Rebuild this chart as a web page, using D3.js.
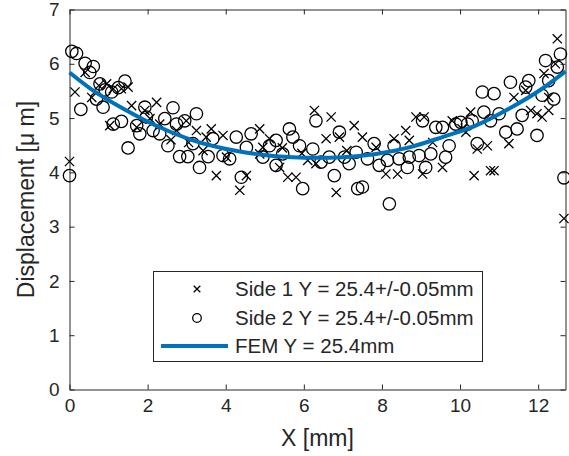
<!DOCTYPE html>
<html>
<head>
<meta charset="utf-8">
<script src="https://cdn.jsdelivr.net/npm/d3@7"></script>
<style>
  body { margin: 0; background: #fff; }
  text { font-family: "Liberation Sans", Arial, sans-serif; fill: #262626; }
</style>
</head>
<body>
<div id="chart"></div>
<script>
// side 1 (crosses): [x mm, displacement um]
let side1X = [0, 0.14, 0.40, 0.57, 0.95, 1.12, 1.50, 1.33, 1.59, 1.03, 1.93, 2.23, 2.06, 1.72, 2.31, 2.74,
  2.99, 3.25, 3.63, 3.50, 3.93, 3.42, 3.76, 4.02, 4.36, 4.53, 4.87, 4.87, 5.12, 5.38, 5.59, 5.80, 6.10,
  6.27, 6.31, 4.95, 6.70, 6.57, 6.91, 6.83, 7.29, 7.50, 7.85, 8.10, 8.40, 8.31, 8.61, 8.70, 8.87, 9.08,
  9.04, 9.55, 9.80, 10.15, 10.27, 10.36, 10.44, 10.70, 10.78, 10.87, 11.25, 11.38, 11.68, 11.81, 11.97,
  12.10, 12.27, 12.15, 12.44, 12.49, 12.66, 12.27, 0.75, 2.60, 3.05, 5.45, 5.95, 7.10, 9.30, 10.05];
let side1Y = [4.20, 5.48, 5.84, 5.38, 5.63, 5.54, 5.57, 5.54, 5.23, 4.86, 5.14, 5.29, 4.99, 4.83, 4.89, 4.77,
  4.95, 4.77, 4.80, 4.65, 4.68, 4.40, 3.94, 4.28, 3.67, 3.94, 4.80, 4.34, 4.62, 4.09, 3.91, 3.91, 4.22,
  5.14, 4.16, 4.46, 5.02, 4.62, 4.65, 3.63, 4.86, 4.65, 4.46, 3.97, 3.97, 4.62, 4.77, 4.59, 5.02, 5.02,
  3.97, 4.09, 4.95, 4.74, 5.11, 3.94, 4.43, 4.49, 4.03, 4.03, 4.53, 5.38, 5.51, 5.14, 5.08,
  5.02, 5.14, 5.82, 6.00, 6.46, 3.15, 5.38, 5.60, 4.60, 4.55, 4.45, 4.35, 4.40, 4.55, 4.80];

// side 2 (circles)
let side2X = [0, 0.06, 0.18, 0.40, 0.61, 0.52, 0.29, 0.78, 0.91, 0.69, 0.86, 1.42, 1.25, 1.08, 1.12, 1.33,
  1.50, 1.72, 1.80, 1.93, 1.97, 2.14, 2.31, 2.44, 2.65, 2.74, 2.95, 3.25, 2.52, 2.82, 3.03, 3.16, 3.33,
  3.55, 3.67, 3.93, 4.10, 4.27, 4.40, 4.65, 4.53, 4.95, 5.12, 5.29, 5.29, 5.46, 5.63, 5.72, 5.89, 5.97,
  6.23, 6.31, 6.44, 6.65, 6.78, 6.91, 7.04, 7.16, 7.38, 7.50, 7.34, 7.63, 7.80, 7.93, 8.19, 8.14, 8.31,
  8.44, 8.65, 8.70, 8.95, 9.04, 9.12, 9.25, 9.38, 9.55, 9.63, 9.72, 9.89, 10.02, 10.19, 10.31, 10.44,
  10.57, 10.87, 10.61, 10.78, 11.00, 11.17, 11.29, 11.46, 11.68, 11.76, 11.59, 11.97, 12.10, 12.19,
  12.40, 12.49, 12.57, 12.66, 12.27];
let side2Y = [3.94, 6.23, 6.19, 6.01, 5.95, 5.84, 5.16, 5.63, 5.52, 5.35, 5.20, 5.68, 5.56, 5.48, 4.89, 4.94,
  4.45, 4.86, 4.71, 5.20, 5.02, 4.77, 4.71, 4.99, 5.19, 4.89, 4.95, 5.08, 4.49, 4.29, 4.29, 4.53, 4.09,
  4.29, 4.62, 4.31, 4.25, 4.65, 3.91, 4.71, 4.46, 4.28, 4.49, 4.59, 4.13, 4.34, 4.80, 4.65, 4.49, 3.70,
  4.43, 4.95, 4.19, 4.28, 3.94, 4.74, 4.28, 4.16, 3.70, 3.73, 4.37, 4.25, 4.53, 4.13, 3.42, 4.22, 4.49,
  4.25, 4.09, 4.28, 4.31, 4.95, 4.09, 4.34, 4.83, 4.83, 4.28, 4.49, 4.89, 4.92, 4.89, 4.95, 4.53,
  5.48, 5.45, 5.11, 4.95, 5.08, 4.74, 5.66, 4.80, 5.57, 5.69, 5.05, 4.68, 5.42, 6.06,
  5.35, 5.94, 6.18, 3.90, 5.69];

// FEM curve
let femX = [0, 0.6, 1.46, 2.31, 3.16, 4.02, 4.87, 5.72, 6.35, 6.99, 7.85, 8.70, 9.55, 10.40, 11.25, 12.10, 12.70];
let femY = [5.84, 5.51, 5.14, 4.83, 4.59, 4.43, 4.33, 4.28, 4.27, 4.28, 4.34, 4.46, 4.65, 4.86, 5.17, 5.54, 5.86];

let xTicks = [0, 2, 4, 6, 8, 10, 12];
let yTicks = [0, 1, 2, 3, 4, 5, 6, 7];
let legendLabels = ["Side 1 Y = 25.4+/-0.05mm", "Side 2 Y = 25.4+/-0.05mm", "FEM Y = 25.4mm"];

let width = 569, height = 456;
let plotLeft = 69.5, plotRight = 565.5, plotTop = 9.5, plotBottom = 389.5;
let axisColor = "#262626", femColor = "#0072bd";

let svg = d3.select("#chart").append("svg")
  .attr("width", width)
  .attr("height", height);

let x = d3.scaleLinear().domain([0, 12.7]).range([plotLeft, plotRight]);
let y = d3.scaleLinear().domain([0, 7]).range([plotBottom, plotTop]);

function styleAxis(g) {
  g.select(".domain").attr("stroke", axisColor);
  g.selectAll(".tick line").attr("stroke", axisColor);
  g.selectAll(".tick text").attr("fill", axisColor).style("font-size", "19px")
    .style("font-family", "'Liberation Sans', Arial, sans-serif");
}

// box and ticks (ticks point inward)
svg.append("g")
  .attr("transform", "translate(0," + plotBottom + ")")
  .call(d3.axisBottom(x).tickValues(xTicks).tickFormat(d3.format("d")).tickSize(-5).tickPadding(9).tickSizeOuter(0))
  .call(styleAxis);
svg.append("g")
  .attr("transform", "translate(0," + plotTop + ")")
  .call(d3.axisTop(x).tickValues(xTicks).tickSize(-5).tickFormat("").tickSizeOuter(0))
  .call(styleAxis);
svg.append("g")
  .attr("transform", "translate(" + plotLeft + ",0)")
  .call(d3.axisLeft(y).tickValues(yTicks).tickFormat(d3.format("d")).tickSize(-5).tickPadding(10).tickSizeOuter(0))
  .call(styleAxis);
svg.append("g")
  .attr("transform", "translate(" + plotRight + ",0)")
  .call(d3.axisRight(y).tickValues(yTicks).tickSize(-5).tickFormat("").tickSizeOuter(0))
  .call(styleAxis);

// markers
let crossPath = function(s) {
  return "M" + (-s) + "," + (-s) + "L" + s + "," + s + "M" + (-s) + "," + s + "L" + s + "," + (-s);
};

let plot = svg.append("g");

plot.selectAll(".cross")
  .data(side1X.map(function(d, i) { return [d, side1Y[i]]; }))
  .enter().append("path")
    .attr("class", "cross")
    .attr("transform", function(d) { return "translate(" + x(d[0]) + "," + y(d[1]) + ")"; })
    .attr("d", crossPath(4.6))
    .attr("stroke", "#000")
    .attr("stroke-width", 1.3)
    .attr("fill", "none");

plot.selectAll(".circ")
  .data(side2X.map(function(d, i) { return [d, side2Y[i]]; }))
  .enter().append("circle")
    .attr("class", "circ")
    .attr("cx", function(d) { return x(d[0]); })
    .attr("cy", function(d) { return y(d[1]); })
    .attr("r", 6.2)
    .attr("stroke", "#000")
    .attr("stroke-width", 1.3)
    .attr("fill", "none");

let line = d3.line()
  .curve(d3.curveMonotoneX)
  .x(function(d) { return x(d[0]); })
  .y(function(d) { return y(d[1]); });

plot.append("path")
  .datum(femX.map(function(d, i) { return [d, femY[i]]; }))
  .attr("d", line)
  .attr("fill", "none")
  .attr("stroke", femColor)
  .attr("stroke-width", 4);

// axis labels
svg.append("text")
  .attr("x", (plotLeft + plotRight) / 2)
  .attr("y", 446)
  .attr("text-anchor", "middle")
  .style("font-size", "23px")
  .text("X [mm]");

svg.append("text")
  .attr("transform", "translate(34," + ((plotTop + plotBottom) / 2) + ") rotate(-90)")
  .attr("text-anchor", "middle")
  .style("font-size", "23px")
  .text("Displacement [\u03bc m]");

// legend
let legend = svg.append("g");
legend.append("rect")
  .attr("x", 153.5).attr("y", 271.5)
  .attr("width", 329).attr("height", 90)
  .attr("fill", "#fff")
  .attr("stroke", axisColor)
  .attr("stroke-width", 1);

let rowY = [289, 318, 346];
legend.append("path")
  .attr("transform", "translate(197," + rowY[0] + ")")
  .attr("d", crossPath(3.3))
  .attr("stroke", "#000").attr("stroke-width", 1.3);
legend.append("circle")
  .attr("cx", 197).attr("cy", rowY[1]).attr("r", 4.3)
  .attr("fill", "none").attr("stroke", "#000").attr("stroke-width", 1.3);
legend.append("line")
  .attr("x1", 161).attr("x2", 228)
  .attr("y1", rowY[2]).attr("y2", rowY[2])
  .attr("stroke", femColor).attr("stroke-width", 4);

legend.selectAll(".ltext")
  .data(legendLabels)
  .enter().append("text")
    .attr("x", 235)
    .attr("y", function(d, i) { return rowY[i]; })
    .attr("dy", "0.35em")
    .style("font-size", "20.5px")
    .text(function(d) { return d; });
</script>
</body>
</html>
